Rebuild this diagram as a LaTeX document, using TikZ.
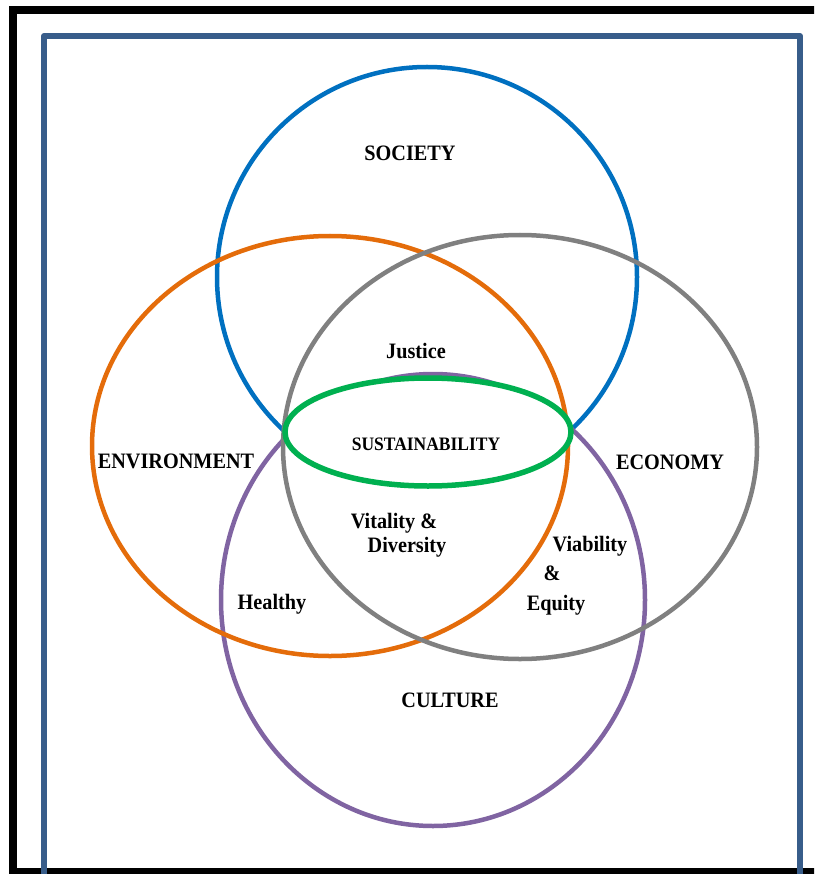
\documentclass[tikz,border=0pt]{standalone}
\usepackage{fontspec}
\setmainfont{Liberation Serif}
\definecolor{socblue}{HTML}{0070C0}
\definecolor{envorange}{HTML}{E46C0A}
\definecolor{ecogray}{HTML}{808080}
\definecolor{culpurple}{HTML}{8064A2}
\definecolor{susgreen}{HTML}{00B050}
\definecolor{frameblue}{HTML}{385D8A}
\begin{document}
\begin{tikzpicture}[x=1pt,y=-1pt,
    ring/.style={line width=4.5pt},
    lbl/.style={font=\bfseries\fontsize{22}{26}\selectfont,inner sep=0pt,anchor=base,xscale=0.92},
    smalllbl/.style={lbl,font=\bfseries\fontsize{19}{22}\selectfont}]
    \useasboundingbox (0,0) rectangle (814,874);
    \clip (0,0) rectangle (814,874);
    % frames
    \draw[line width=8pt] (12.5,10) rectangle (830,872);
    \draw[frameblue,line width=6pt,line join=round] (44,36) rectangle (800,900);
    % circles
    \draw[ring,socblue] (427,277) circle (210);
    \draw[ring,culpurple,fill=white] (433,600) ellipse [x radius=212,y radius=226];
    \draw[ring,envorange] (330,446) ellipse [x radius=238,y radius=210];
    \draw[ring,ecogray] (520,447) ellipse [x radius=237,y radius=212];
    \draw[ring,susgreen,line width=5.5pt,fill=white] (428,432) ellipse [x radius=143,y radius=54];
    % labels
    \node[lbl] (society) at (410,161) {SOCIETY};
    \node[lbl] (environment) at (176,468) {ENVIRONMENT};
    \node[lbl] (economy) at (670,469) {ECONOMY};
    \node[lbl] (culture) at (450,707) {CULTURE};
    \node[smalllbl] (sustainability) at (426,450) {SUSTAINABILITY};
    \node[lbl] (justice) at (416,358) {Justice};
    \node[lbl] (vitality) at (394,528) {Vitality \&};
    \node[lbl] (diversity) at (407,552) {Diversity};
    \node[lbl] (viability) at (590,551) {Viability};
    \node[lbl] (amp) at (552,580) {\&};
    \node[lbl] (equity) at (556,610) {Equity};
    \node[lbl] (healthy) at (272,609) {Healthy};
\end{tikzpicture}
\end{document}
